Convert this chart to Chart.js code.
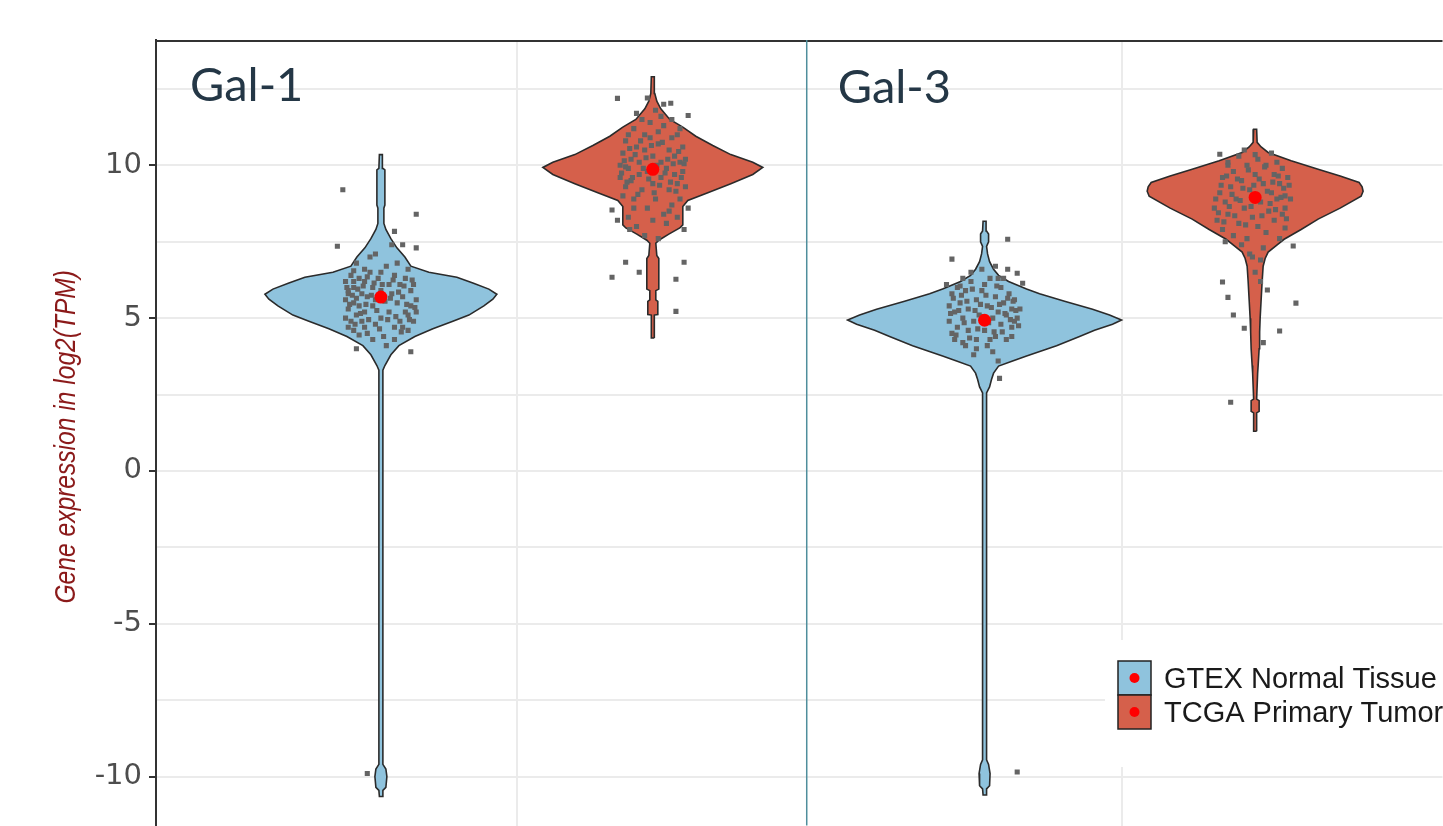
<!DOCTYPE html>
<html lang="en">
<head>
<meta charset="UTF-8">
<title>Gal-1 / Gal-3 expression</title>
<script src="https://cdn.jsdelivr.net/npm/chart.js"></script>
<style>
  html, body { margin: 0; padding: 0; background: #fff; overflow: hidden; }
  #wrap { width: 1443px; height: 826px; overflow: hidden; }
</style>
</head>
<body>
<div id="wrap"><canvas id="chart" width="1449" height="832"></canvas></div>
<script>
// groups and panels
const groups = ['GTEX Normal Tissue', 'TCGA Primary Tumor'];
const groupFill = ['#8FC3DD', '#D5604B'];
const panels = ['Gal-1', 'Gal-3'];
const yTitle = 'Gene expression in log2(TPM)';
// x positions of the four violins (Gal-1 GTEX, Gal-1 TCGA, Gal-3 GTEX, Gal-3 TCGA)
const xPos = [1, 2, 3.22, 4.215];
const panelDivider = 2.566;
const yTicks = [-10, -5, 0, 5, 10];

// violin outlines: [log2(TPM), density]
const gal1Gtex = [[-10.65,1.5],[-10.45,2],[-10.35,5],[-10.0,6],[-9.75,5],[-9.6,2],[3.3,2],[3.45,4],[3.8,10],[4.1,18],[4.4,34],[4.65,52],[4.9,72],[5.1,88],[5.4,103],[5.62,112],[5.78,116],[5.95,108],[6.15,92],[6.34,76],[6.5,48],[6.7,30],[7.0,24],[7.3,16],[7.6,10],[7.9,5],[8.1,3],[8.6,3],[8.7,4],[9.85,4],[9.9,2],[10.35,1.5]];
const gal1Tcga = [[4.35,1.5],[5.1,1.5],[5.12,5],[5.55,5],[5.6,3],[5.9,3],[5.95,6],[6.95,6],[7.05,4],[7.45,3],[7.55,6],[7.75,16],[7.95,27],[8.05,30],[8.65,30],[8.85,35],[9.1,55],[9.4,78],[9.7,100],[9.93,110],[10.1,100],[10.35,78],[10.65,60],[10.95,43],[11.25,30],[11.5,17],[11.85,8],[12.1,4],[12.35,2],[12.9,1.5]];
const gal3Gtex = [[-10.6,1.5],[-10.4,2],[-10.3,5],[-9.9,5.5],[-9.6,4],[-9.45,2],[2.55,2],[2.75,5],[3.0,7],[3.2,9],[3.43,14],[3.6,28],[3.76,42],[4.1,72],[4.4,95],[4.6,110],[4.8,128],[4.94,137],[5.1,125],[5.29,108],[5.55,80],[5.8,55],[5.95,42],[6.2,24],[6.4,14],[6.6,9],[6.85,5],[7.1,3],[7.35,2],[7.5,4],[7.75,4],[7.85,2],[8.17,1.5]];
const gal3Tcga = [[1.3,1.5],[1.9,1.5],[1.95,4],[2.3,4],[2.35,1.5],[3.2,2.5],[3.45,3],[4.0,4],[4.55,4.5],[5.0,5],[5.6,6],[6.2,7],[6.7,8],[6.95,10],[7.16,13],[7.4,22],[7.58,29],[7.9,46],[8.24,63],[8.6,85],[8.99,106],[9.15,108],[9.3,107],[9.44,104],[9.65,85],[9.87,63],[10.15,36],[10.42,13],[10.6,6],[10.75,2],[11.18,1.5]];

// jittered samples: [x offset, log2(TPM)]
const gal1GtexPts = [[-0.13,6.2],[-0.12,5.9],[-0.13,5.6],[-0.12,5.3],[-0.13,5.0],[-0.12,4.7],[-0.11,6.4],[-0.10,6.0],[-0.10,5.5],[-0.09,5.1],[-0.10,4.6],[-0.08,6.3],[-0.07,5.8],[-0.08,5.4],[-0.07,4.9],[-0.06,6.2],[-0.05,5.7],[-0.06,5.2],[-0.05,4.5],[-0.04,6.5],[-0.03,6.0],[-0.03,5.4],[-0.02,4.8],[-0.01,6.3],[0.0,5.9],[0.0,5.0],[0.01,4.4],[0.02,6.7],[0.03,6.1],[0.03,5.2],[0.04,5.8],[0.05,6.4],[0.05,4.7],[0.06,5.5],[0.07,6.1],[0.07,4.9],[0.08,5.7],[0.09,6.3],[0.09,5.2],[0.10,4.6],[0.11,5.9],[0.11,5.4],[0.12,6.1],[0.12,4.9],[0.13,5.6],[0.13,5.2],[-0.09,6.8],[-0.02,7.1],[0.04,7.4],[-0.04,7.0],[-0.11,4.9],[0.08,4.7],[0.02,4.1],[-0.03,4.3],[0.06,6.8],[-0.12,5.8],[0.10,6.6],[-0.06,4.7],
  [-0.125,6.0],[-0.115,5.45],[-0.105,5.75],[-0.095,4.8],[-0.085,5.95],[-0.075,5.15],[-0.065,6.05],[-0.055,5.45],[-0.045,4.95],[-0.035,5.75],[-0.025,6.15],[-0.015,5.25],[-0.005,4.65],[0.005,6.1],[0.015,5.55],[0.025,4.95],[0.035,5.65],[0.045,6.25],[0.055,5.05],[0.065,5.85],[0.075,4.55],[0.085,6.05],[0.095,5.45],[0.105,4.95],[0.115,6.25],[0.125,5.35],[-0.10,6.55],[-0.06,6.6],[0.0,6.5],[0.05,4.3],[-0.08,4.45],[0.1,5.1],[-0.02,5.6],[-0.05,6.35],[-0.09,5.65],[-0.1,6.2],
  [-0.14,9.2],[0.13,8.4],[-0.16,7.35],[0.13,7.3],[0.05,7.84],[0.08,7.4],[-0.09,4.0],[0.11,3.9],[-0.05,-9.9]];
const gal1TcgaPts = [[-0.12,10.0],[-0.12,9.6],[-0.11,10.4],[-0.10,9.3],[-0.10,10.8],[-0.09,9.9],[-0.08,10.2],[-0.08,9.5],[-0.07,11.2],[-0.07,8.9],[-0.06,10.6],[-0.05,9.7],[-0.05,10.1],[-0.04,11.5],[-0.04,9.2],[-0.03,10.5],[-0.02,9.8],[-0.02,8.6],[-0.01,10.9],[0.0,9.4],[0.0,10.3],[0.01,11.8],[0.01,8.9],[0.02,10.7],[0.03,9.6],[0.03,10.1],[0.04,11.3],[0.04,8.4],[0.05,9.9],[0.06,10.5],[0.06,9.2],[0.07,10.9],[0.07,8.7],[0.08,9.7],[0.08,10.3],[0.09,11.0],[0.09,9.4],[0.10,10.1],[0.10,8.9],[0.11,9.8],[0.11,10.6],[0.12,9.3],[-0.09,8.3],[-0.06,8.0],[0.05,8.1],[0.09,8.3],[-0.03,7.7],[0.02,7.6],[-0.11,9.0],[0.12,10.2],[-0.01,11.4],[0.04,12.0],[-0.06,11.7],[0.07,11.5],[-0.085,7.9],
  [-0.115,9.75],[-0.105,10.15],[-0.095,9.45],[-0.085,10.55],[-0.075,9.6],[-0.065,10.35],[-0.055,9.05],[-0.045,10.8],[-0.035,9.9],[-0.025,10.25],[-0.015,9.55],[-0.005,10.65],[0.005,9.1],[0.015,10.0],[0.025,9.35],[0.035,10.75],[0.045,9.75],[0.055,10.2],[0.065,9.45],[0.075,10.05],[0.085,9.15],[0.095,10.45],[0.105,9.6],[0.115,10.05],[-0.1,9.95],[-0.03,11.0],[0.02,11.1],[-0.07,8.6],[0.06,8.5],[0.0,8.2],[-0.02,12.2],[0.03,11.6],[-0.09,11.0],[0.1,11.2],
  [-0.13,12.19],[0.066,12.03],[0.13,11.63],[-0.15,8.54],[-0.13,8.2],[0.13,8.6],[0.115,7.9],[-0.10,6.83],[0.115,6.83],[-0.15,6.34],[-0.05,6.5],[0.085,6.27],[0.085,5.22]];
const gal3GtexPts = [[-0.13,5.4],[-0.13,4.9],[-0.12,5.8],[-0.12,4.5],[-0.11,5.2],[-0.10,6.0],[-0.10,4.7],[-0.09,5.5],[-0.08,4.2],[-0.08,5.0],[-0.07,5.9],[-0.06,4.6],[-0.06,5.3],[-0.05,6.2],[-0.04,4.9],[-0.03,5.6],[-0.03,4.3],[-0.02,5.1],[-0.01,5.9],[0.0,4.6],[0.01,5.4],[0.01,4.1],[0.02,6.3],[0.03,5.0],[0.04,5.7],[0.04,4.4],[0.05,5.2],[0.06,6.0],[0.06,4.8],[0.07,5.5],[0.08,4.3],[0.08,5.1],[0.09,5.8],[0.10,4.7],[0.10,5.3],[0.11,4.9],[0.11,5.6],[0.12,5.0],[-0.11,4.3],[0.03,3.9],[-0.04,3.8],[0.07,6.3],[-0.08,6.3],[0.13,5.3],[0.05,3.6],[-0.01,6.6],
  [-0.125,5.15],[-0.115,5.65],[-0.105,4.45],[-0.095,5.25],[-0.085,5.75],[-0.075,4.85],[-0.065,5.55],[-0.055,4.35],[-0.045,5.95],[-0.035,5.25],[-0.025,4.65],[-0.015,5.45],[-0.005,5.05],[0.005,5.75],[0.015,4.85],[0.025,5.35],[0.035,4.55],[0.045,6.05],[0.055,5.45],[0.065,4.55],[0.075,5.15],[0.085,5.65],[0.095,4.95],[0.105,5.55],[0.115,5.25],[0.125,4.75],[-0.09,6.05],[0.0,6.1],[0.05,6.3],[-0.03,4.0],[0.02,4.3],[-0.07,4.1],[0.1,4.4],[-0.05,6.5],[0.04,6.7],
  [0.085,7.58],[0.085,6.6],[0.12,6.47],[0.14,6.14],[0.055,3.03],[-0.12,6.93],[-0.14,6.1],[0.12,-9.85]];
const gal3TcgaPts = [[-0.15,8.6],[-0.14,8.2],[-0.13,9.1],[-0.12,9.6],[-0.12,7.9],[-0.11,8.8],[-0.10,10.1],[-0.10,8.4],[-0.09,9.3],[-0.08,7.7],[-0.08,9.8],[-0.07,8.9],[-0.06,10.3],[-0.06,8.1],[-0.05,9.5],[-0.04,8.6],[-0.03,10.0],[-0.03,7.6],[-0.02,9.2],[-0.01,8.3],[0.0,9.7],[0.01,10.2],[0.01,8.0],[0.02,8.8],[0.03,9.4],[0.04,10.0],[0.04,7.8],[0.05,8.5],[0.06,9.1],[0.07,9.7],[0.07,8.2],[0.08,10.1],[0.08,8.9],[0.09,9.4],[0.10,8.4],[0.10,9.9],[0.11,9.0],[0.11,8.6],[0.12,9.6],[0.13,8.9],[-0.11,7.5],[0.09,7.6],[-0.02,7.1],[0.02,6.9],[-0.04,10.5],[0.06,10.4],
  [-0.145,8.9],[-0.135,8.45],[-0.125,9.35],[-0.115,8.15],[-0.105,9.65],[-0.095,8.65],[-0.085,9.05],[-0.075,8.35],[-0.065,9.55],[-0.055,8.85],[-0.045,9.25],[-0.035,8.05],[-0.025,9.85],[-0.015,8.65],[-0.005,9.35],[0.005,8.95],[0.015,9.55],[0.025,8.35],[0.035,9.95],[0.045,9.15],[0.055,8.75],[0.065,9.45],[0.075,8.55],[0.085,9.65],[0.095,8.95],[0.105,9.25],[0.115,8.25],[0.125,9.35],[-0.1,10.0],[0.0,10.35],[-0.05,7.4],[0.03,7.3],[0.0,6.5],[0.02,6.2],[-0.01,7.0],[0.11,7.95],
  [-0.13,10.36],[0.14,7.36],[-0.12,6.18],[-0.10,5.68],[-0.08,5.1],[0.045,5.92],[0.15,5.49],[0.09,4.58],[-0.04,4.67],[0.03,4.2],[-0.09,2.25]];

// medians (red dots)
const gal1Medians = [5.69, 9.87];
const gal3Medians = [4.93, 8.95];

const violins = [gal1Gtex, gal1Tcga, gal3Gtex, gal3Tcga];
const samples = [gal1GtexPts, gal1TcgaPts, gal3GtexPts, gal3TcgaPts];
const medians = gal1Medians.concat(gal3Medians);
const densityScale = 1 / 272;

function outline(center, prof) {
  const right = prof.map(([v, d]) => ({x: center + d * densityScale, y: v}));
  const left = prof.slice().reverse().map(([v, d]) => ({x: center - d * densityScale, y: v}));
  return right.concat(left, [right[0]]);
}

const datasets = [];
datasets.push({
  label: 'median',
  data: medians.map((m, i) => ({x: xPos[i], y: m})),
  pointRadius: 6.5, pointBackgroundColor: '#FF0000', pointBorderWidth: 0,
  order: 1
});
samples.forEach((pts, i) => {
  datasets.push({
    label: 'samples ' + i,
    data: pts.map(([dx, v]) => ({x: xPos[i] + dx, y: v})),
    pointStyle: 'rect', pointRadius: 3.6,
    pointBackgroundColor: '#646464', pointBorderWidth: 0,
    order: 2
  });
});
violins.forEach((prof, i) => {
  datasets.push({
    label: groups[i % 2],
    data: outline(xPos[i], prof),
    showLine: true, fill: 'shape',
    backgroundColor: groupFill[i % 2],
    borderColor: '#2b2b2b', borderWidth: 1.6,
    pointRadius: 0, tension: 0,
    order: 3
  });
});

// frame, panel divider, panel titles, y title, legend
const decorations = {
  id: 'decorations',
  afterDatasetsDraw(chart) {
    const {ctx, chartArea: a, scales: {x}} = chart;
    ctx.save();
    ctx.strokeStyle = '#333';
    ctx.lineWidth = 2;
    ctx.beginPath();
    ctx.moveTo(a.left, a.top + 1); ctx.lineTo(a.right, a.top + 1);
    ctx.stroke();
    const dx = x.getPixelForValue(panelDivider);
    ctx.strokeStyle = '#4F8E9C';
    ctx.lineWidth = 1.5;
    ctx.beginPath();
    ctx.moveTo(dx, a.top); ctx.lineTo(dx, a.bottom);
    ctx.stroke();

    ctx.fillStyle = '#243746';
    ctx.font = '47px Lato';
    ctx.textBaseline = 'alphabetic';
    ctx.fillText(panels[0], a.left + 34, a.top + 61);
    ctx.fillText(panels[1], dx + 31, a.top + 63);

    // y axis title, condensed like the original
    ctx.save();
    ctx.translate(67, (a.top + a.bottom) / 2 + 4);
    ctx.rotate(-Math.PI / 2);
    ctx.scale(0.82, 1);
    ctx.fillStyle = '#8B1A1A';
    ctx.font = 'italic 30px "Liberation Sans"';
    ctx.textAlign = 'center';
    ctx.textBaseline = 'middle';
    ctx.fillText(yTitle, 0, 0);
    ctx.restore();

    // legend
    ctx.fillStyle = '#fff';
    ctx.fillRect(1105, 640, 400, 127);
    groups.forEach((g, i) => {
      const by = 661 + i * 34;
      ctx.fillStyle = groupFill[i];
      ctx.fillRect(1118, by, 33, 34);
      ctx.strokeStyle = '#222';
      ctx.lineWidth = 1.5;
      ctx.strokeRect(1118, by, 33, 34);
      ctx.fillStyle = '#FF0000';
      ctx.beginPath();
      ctx.arc(1134.5, by + 17, 5, 0, Math.PI * 2);
      ctx.fill();
      ctx.fillStyle = '#1a1a1a';
      ctx.font = '29px "Liberation Sans"';
      ctx.textAlign = 'left';
      ctx.textBaseline = 'middle';
      ctx.fillText(g, 1164, by + 19);
    });
    ctx.restore();
  }
};

new Chart(document.getElementById('chart'), {
  type: 'scatter',
  data: {datasets},
  plugins: [decorations],
  options: {
    responsive: false,
    animation: false,
    layout: {padding: {top: 40, left: 0, right: 0, bottom: 0}},
    plugins: {legend: {display: false}, tooltip: {enabled: false}},
    scales: {
      x: {
        type: 'linear', min: 0.173, max: 4.904,
        afterBuildTicks: s => { s.ticks = [{value: 1.5}, {value: 3.724}]; },
        afterFit: s => { s.height = 0; s.paddingLeft = 0; s.paddingRight = 0; },
        ticks: {display: false},
        grid: {color: '#EBEBEB', lineWidth: 2, drawTicks: false},
        border: {display: false}
      },
      y: {
        type: 'linear', min: -11.6, max: 14.1,
        afterFit: s => { s.width = 156; s.paddingTop = 0; s.paddingBottom = 0; },
        ticks: {
          stepSize: 2.5, includeBounds: false,
          callback: v => yTicks.includes(v) ? String(v) : '',
          color: '#4d4d4d', padding: 7,
          font: {family: 'DejaVu Sans', size: 29}
        },
        grid: {
          color: '#EBEBEB', lineWidth: 2, tickLength: 7, tickWidth: 2,
          tickColor: c => yTicks.includes(c.tick.value) ? '#333' : 'rgba(0,0,0,0)'
        },
        border: {display: true, color: '#333', width: 2},
        title: {display: false}
      }
    }
  }
});
</script>
</body>
</html>
